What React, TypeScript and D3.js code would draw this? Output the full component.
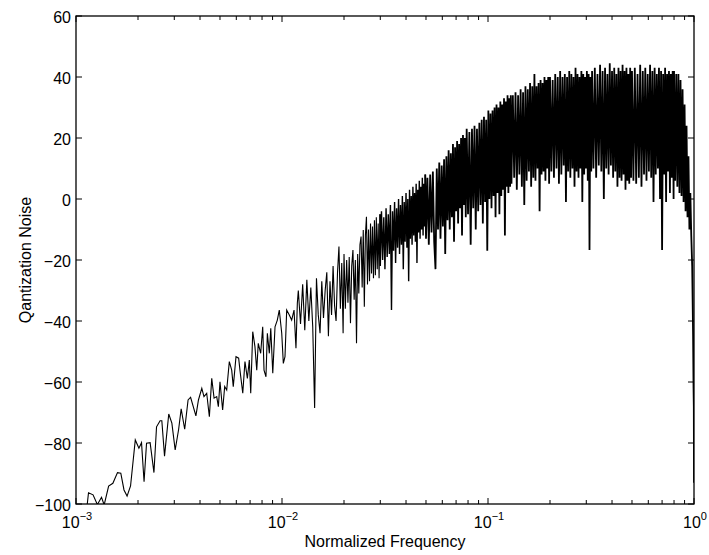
import React from 'react';
import * as d3 from 'd3';

// ---- data ----
// sparse low-frequency part
const freqA = [0.00113, 0.00115, 0.00121, 0.00127, 0.00133, 0.00137, 0.00144, 0.00151, 0.00159, 0.00165, 0.00171, 0.00177, 0.00184, 0.00194, 0.00202, 0.00208, 0.00214, 0.0022, 0.00229, 0.00239, 0.00246, 0.00256, 0.00261, 0.00269, 0.00282, 0.00292, 0.00303, 0.00315, 0.00324, 0.00337, 0.0035, 0.0036, 0.00382, 0.00393, 0.00408, 0.00418, 0.00431, 0.00444, 0.00456, 0.00468, 0.00482, 0.00491, 0.005, 0.00515, 0.00527, 0.00539, 0.00555, 0.0057, 0.0058, 0.00598, 0.00616, 0.00625, 0.00645, 0.00661, 0.00679, 0.00694, 0.00705, 0.00721, 0.00739, 0.00754, 0.00767, 0.00788, 0.00806, 0.00818, 0.00836, 0.00849, 0.00868, 0.00882, 0.00902, 0.00925, 0.00949, 0.0097, 0.00997, 0.01015, 0.01034, 0.01054, 0.01085, 0.01114, 0.01144, 0.01169, 0.01187];
const dbA = [-101, -96.3, -97.0, -100.2, -97.8, -100.3, -94.1, -93.2, -89.7, -89.9, -95.4, -97.4, -94.1, -79.0, -81.7, -79.9, -92.7, -80.1, -79.9, -89.7, -74.7, -72.7, -72.7, -84.3, -70.5, -73.5, -82.3, -75.5, -68.8, -75.5, -65.9, -65.0, -71.1, -65.9, -62.1, -64.8, -63.7, -71.4, -58.8, -65.3, -64.8, -68.1, -59.9, -69.2, -61.5, -62.6, -53.3, -56.1, -61.5, -51.7, -52.2, -56.1, -63.7, -53.3, -58.8, -52.8, -63.7, -43.5, -48.4, -56.1, -47.3, -50.6, -41.9, -56.1, -58.3, -44.0, -50.6, -42.4, -57.1, -41.9, -39.7, -36.4, -44.0, -53.9, -51.7, -36.4, -38.0, -39.7, -36.4, -48.9, -34.2];

const freqB = [0.012, 0.0123, 0.0126, 0.0129, 0.0132, 0.0135, 0.0138, 0.0141, 0.0144, 0.0147, 0.015, 0.0153, 0.0156, 0.0159, 0.0162, 0.0165, 0.0168, 0.0171, 0.0174, 0.0177, 0.018, 0.0183, 0.0186, 0.0189, 0.0192, 0.0195, 0.0198];
const dbB = [-30, -41, -28, -43, -26.5, -40, -29, -42, -68.5, -26, -38, -44, -27, -39, -30, -24, -45, -27, -38, -22, -35, -40, -24, -15.6, -36, -21, -44];

const freqC = [0.02, 0.0203, 0.0206, 0.0209, 0.0212, 0.0215, 0.0218, 0.0221, 0.0224, 0.0227, 0.023, 0.0233, 0.0236, 0.0239, 0.0242, 0.0245, 0.0248, 0.0251, 0.0254, 0.0257, 0.026, 0.0263, 0.0266, 0.0269, 0.0272, 0.0275, 0.0278, 0.0281, 0.0284, 0.0287, 0.029, 0.0293, 0.0296, 0.0299];
const dbC = [-18, -36, -20, -34, -19, -40.7, -22, -16.7, -33, -20, -47.3, -18, -31, -15, -12.3, -29, -10.2, -35.3, -12, -5.8, -28, -10, -27, -8, -24.4, -9, -26, -7, -25, -6, -23, -8, -26, -5];

const freqD = [0.03, 0.0304, 0.0308, 0.0312, 0.0316, 0.032, 0.0324, 0.0328, 0.0332, 0.0336, 0.034, 0.0344, 0.0348, 0.0352, 0.0356, 0.036, 0.0364, 0.0368, 0.0372, 0.0376, 0.038, 0.0384, 0.0388, 0.0392, 0.0396, 0.04, 0.0404, 0.0408, 0.0412, 0.0416, 0.042, 0.0424, 0.0428, 0.0432, 0.0436, 0.044, 0.0444, 0.0448, 0.0452, 0.0456, 0.046, 0.0464, 0.0468, 0.0472, 0.0476, 0.048, 0.0484, 0.0488, 0.0492, 0.0496];
const dbD = [-22, -4, -20, -6, -23, -3, -19, -5, -18, -2, -36.4, -4, -17, -1, -21, -3, -16, 0, -18, -2, -15, 1, -23, -1, -14, 2, -16, 0, -27, 3, -13, 1, -15, 4, -12, 2, -14, 5, -21, 3, -11, 6, -13, 4, -10, 7, -12, 5, -9, 8];

const freqE = [0.05, 0.0508, 0.0516, 0.0524, 0.0532, 0.054, 0.0548, 0.0556, 0.0564, 0.0572, 0.058, 0.0588, 0.0596, 0.0604, 0.0612, 0.062, 0.0628, 0.0636, 0.0644, 0.0652, 0.066, 0.0668, 0.0676, 0.0684, 0.0692, 0.07, 0.0708, 0.0716, 0.0724, 0.0732, 0.074, 0.0748, 0.0756, 0.0764, 0.0772, 0.078, 0.0788];
const dbE = [-13, 7, -15, 8, -11, 9, -14, -23, 10, -10, 12, -13, 11, -9, 13, -18, 14, -7, 16, -10, 15, -6, 18, -14, 17, -4, 19, -8, 18, -3, 20, -12, 21, -2, 20, -6, 23];

const freqF = [0.08, 0.0812, 0.0824, 0.0836, 0.0848, 0.086, 0.0872, 0.0884, 0.0896, 0.0908, 0.092, 0.0932, 0.0944, 0.0956, 0.0968, 0.098, 0.0992, 0.1004, 0.1016, 0.1028, 0.104, 0.1052, 0.1064, 0.1076, 0.1088, 0.11, 0.1112, 0.1124, 0.1136, 0.1148, 0.116, 0.1172, 0.1184, 0.1196, 0.1208, 0.122, 0.1232, 0.1244, 0.1256, 0.1268, 0.128];
const dbF = [-5, 22, -15, 23, -3, 24, -10, 23, -4, 25, -2, 26, -8, 27, -1, 26, -17, 29, 0, 28, -3, 29, 1, 30, -6, 31, 2, 30, -5, 32, 1, 31, 3, 33, -12, 32, 4, 34, 2, 33, 4];

const freqG = [0.129, 0.13, 0.132, 0.134, 0.136, 0.138, 0.14, 0.142, 0.144, 0.146, 0.148, 0.15, 0.152, 0.154, 0.156, 0.158, 0.16, 0.162, 0.164, 0.166, 0.168, 0.17, 0.172, 0.174, 0.176, 0.178, 0.18, 0.182, 0.184, 0.186, 0.188, 0.19, 0.192, 0.194, 0.196, 0.198];
const dbG = [34, 5, 34, 7, 35, 3, 34, 8, 36, 4, 35, -2, 37, 6, 36, 9, 38, 4, 37, 7, 41, 6, 37, 10, 38, -4, 39, 8, 38, 9, 40, 6, 39, 10, 40, 5];

const freqH = [0.2, 0.203, 0.206, 0.209, 0.212, 0.215, 0.218, 0.221, 0.224, 0.227, 0.23, 0.233, 0.236, 0.239, 0.242, 0.245, 0.248, 0.251, 0.254, 0.257, 0.26, 0.263, 0.266, 0.269, 0.272, 0.275, 0.278, 0.281, 0.284, 0.287, 0.29, 0.293, 0.296, 0.299, 0.302, 0.305, 0.308, 0.311, 0.314, 0.317];
const dbH = [40, 9, 39, 7, 41, 10, 40, 5, 42, 8, 40, 11, 41, -1, 40, 9, 42, 7, 41, 10, 40, 4, 43, 9, 41, 7, 40, 10, 42, -1, 41, 8, 40, 10, 42, 6, 41, -16.7, 40, 9];

const freqI = [0.32, 0.325, 0.33, 0.335, 0.34, 0.345, 0.35, 0.355, 0.36, 0.365, 0.37, 0.375, 0.38, 0.385, 0.39, 0.395, 0.4, 0.405, 0.41, 0.415, 0.42, 0.425, 0.43, 0.435, 0.44, 0.445, 0.45, 0.455, 0.46, 0.465, 0.47, 0.475, 0.48, 0.485, 0.49, 0.495];
const dbI = [42, 10, 43, 7, 41, 11, 44, 9, 42, 0, 43, 10, 41, 8, 44.5, 11, 42, 7, 43, 9, 41, 4, 43, 7, 42, 6, 44, 8, 42, 3, 43, 6, 41, 5, 43, 7];

const freqJ = [0.5, 0.508, 0.516, 0.524, 0.532, 0.54, 0.548, 0.556, 0.564, 0.572, 0.58, 0.588, 0.596, 0.604, 0.612, 0.62, 0.628, 0.636, 0.644, 0.652, 0.66, 0.668, 0.676, 0.684, 0.692, 0.7, 0.708, 0.716, 0.724, 0.732, 0.74, 0.748, 0.756, 0.764, 0.772, 0.78, 0.788, 0.796];
const dbJ = [42, 6, 43, 5, 41, 7, 44, 4, 42, 8, 43, 6, 41, 9, 44, 7, 42, -1, 43, 8, 41, 10, 43, 0, 42, -16.7, 41, 8, 43, -1, 41, 9, 42, 2, 41, 7, 42, 0];

const freqK = [0.8, 0.81, 0.82, 0.83, 0.84, 0.85, 0.86, 0.87, 0.88, 0.89, 0.9, 0.91, 0.92, 0.93, 0.94, 0.95, 0.96, 0.97, 0.98, 0.99, 0.995, 0.998, 1.0];
const dbK = [42, 6, 41, 4, 41, 2, 39, 1, 36, -1, 31, -4, 24, -6, 14, -10, 2, -12, -22, -45, -62, -68, -93];

const yTickValues = [-100, -80, -60, -40, -20, 0, 20, 40, 60];
const xMajorValues = [0.001, 0.01, 0.1, 1];
const xMajorExponents = ['\u22123', '\u22122', '\u22121', '0'];

const xLabel = 'Normalized Frequency';
const yLabel = 'Qantization Noise';

const FONT = '"Liberation Sans", Arial, Helvetica, sans-serif';

export default function App() {
  const W = 709;
  const H = 555;
  const left = 76, right = 694, top = 16, bottom = 504;

  const x = d3.scaleLog().domain([1e-3, 1]).range([left, right]);
  const y = d3.scaleLinear().domain([-100, 60]).range([bottom, top]);

  // sparse part (thin), semi-dense part and dense band part
  const freqLow = [freqA, freqB, freqC].flat();
  const dbLow = [dbA, dbB, dbC].flat();
  const freqMid = freqD;
  const dbMid = dbD;
  const freqHigh = [freqE, freqF, freqG, freqH, freqI, freqJ, freqK].flat();
  const dbHigh = [dbE, dbF, dbG, dbH, dbI, dbJ, dbK].flat();

  const ptsLow: [number, number][] = freqLow.map((f, i) => [f, dbLow[i]]);
  const ptsMid: [number, number][] = [
    ptsLow[ptsLow.length - 1],
    ...freqMid.map((f, i) => [f, dbMid[i]] as [number, number]),
  ];
  const ptsHigh: [number, number][] = [
    ptsMid[ptsMid.length - 1],
    ...freqHigh.map((f, i) => [f, dbHigh[i]] as [number, number]),
  ];

  const line = d3
    .line<[number, number]>()
    .x((d) => x(d[0]))
    .y((d) => y(d[1]));

  const allXTicks = x.ticks();
  const minorX = allXTicks.filter((t) => !xMajorValues.some((m) => Math.abs(m - t) / m < 1e-6));

  const majorLen = 6;
  const minorLen = 4;

  return (
    <svg
      width={W}
      height={H}
      viewBox={`0 0 ${W} ${H}`}
      style={{ position: 'absolute', left: 0, top: 0, display: 'block', background: '#fff' }}
    >
      <defs>
        <clipPath id="plotClip">
          <rect x={left} y={top} width={right - left} height={bottom - top} />
        </clipPath>
      </defs>
      <rect x={0} y={0} width={W} height={H} fill="#fff" />

      {/* data line */}
      <g clipPath="url(#plotClip)">
        <path d={line(ptsLow) || ''} fill="none" stroke="#000" strokeWidth={1.1} />
        <path d={line(ptsMid) || ''} fill="none" stroke="#000" strokeWidth={1.4} />
        <path d={line(ptsHigh) || ''} fill="none" stroke="#000" strokeWidth={1.8} />
      </g>

      {/* y ticks (left and right) */}
      {yTickValues.map((v) => (
        <g key={'y' + v}>
          <line x1={left} x2={left + majorLen} y1={y(v)} y2={y(v)} stroke="#000" strokeWidth={1} />
          <line x1={right} x2={right - majorLen} y1={y(v)} y2={y(v)} stroke="#000" strokeWidth={1} />
          <text
            x={left - 5}
            y={y(v) + 7}
            textAnchor="end"
            fontFamily={FONT}
            fontSize={16}
            fill="#000"
          >
            {v < 0 ? '\u2212' + Math.abs(v) : String(v)}
          </text>
        </g>
      ))}

      {/* x major ticks */}
      {xMajorValues.map((v, i) => (
        <g key={'xm' + v}>
          <line x1={x(v)} x2={x(v)} y1={bottom} y2={bottom - majorLen} stroke="#000" strokeWidth={1} />
          <line x1={x(v)} x2={x(v)} y1={top} y2={top + majorLen} stroke="#000" strokeWidth={1} />
          <text x={x(v) + 1} y={528} textAnchor="middle" fontFamily={FONT} fontSize={16} fill="#000">
            <tspan>10</tspan>
            <tspan dy={-8} fontSize={11}>
              {xMajorExponents[i]}
            </tspan>
          </text>
        </g>
      ))}

      {/* x minor ticks */}
      {minorX.map((v) => (
        <g key={'xn' + v}>
          <line x1={x(v)} x2={x(v)} y1={bottom} y2={bottom - minorLen} stroke="#000" strokeWidth={1} />
          <line x1={x(v)} x2={x(v)} y1={top} y2={top + minorLen} stroke="#000" strokeWidth={1} />
        </g>
      ))}

      {/* box */}
      <rect
        x={left}
        y={top}
        width={right - left}
        height={bottom - top}
        fill="none"
        stroke="#000"
        strokeWidth={1.3}
      />

      {/* axis labels */}
      <text
        x={(left + right) / 2}
        y={547}
        textAnchor="middle"
        fontFamily={FONT}
        fontSize={16}
        fill="#000"
      >
        {xLabel}
      </text>
      <text
        transform={`translate(31, ${(top + bottom) / 2}) rotate(-90)`}
        textAnchor="middle"
        fontFamily={FONT}
        fontSize={16}
        fill="#000"
      >
        {yLabel}
      </text>
    </svg>
  );
}
